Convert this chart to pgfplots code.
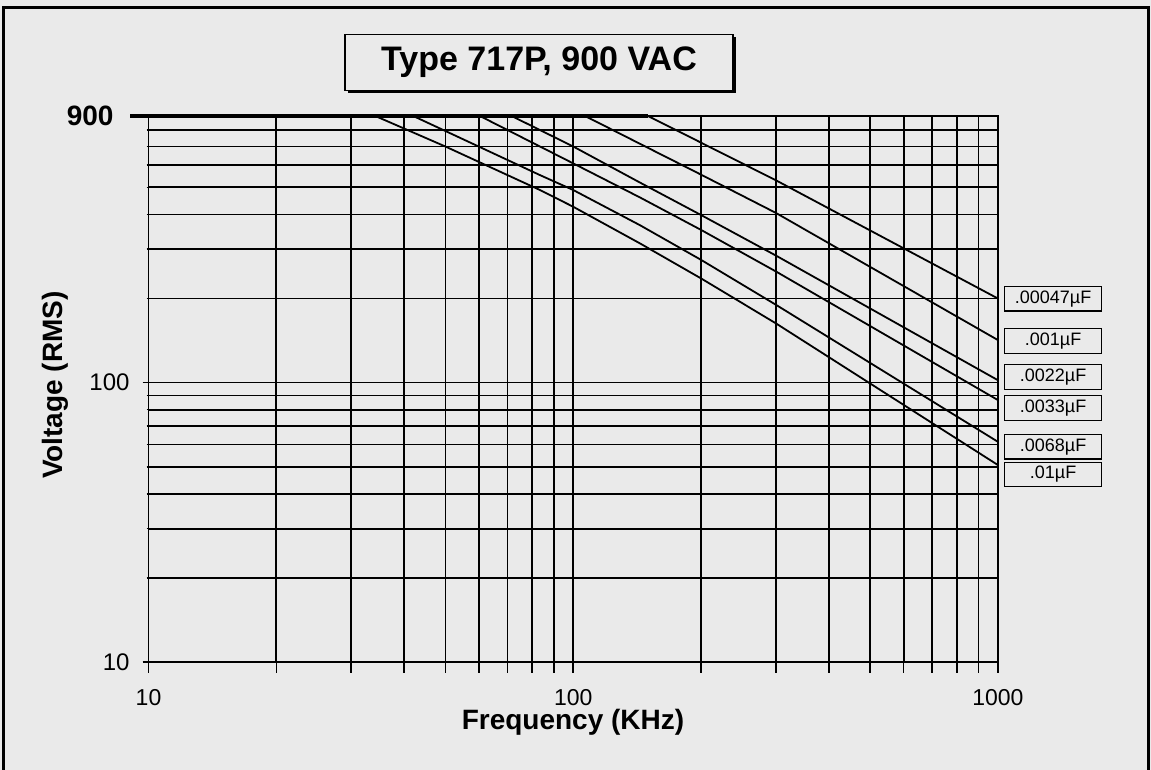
\documentclass[border=0pt]{standalone}
\usepackage{pgfplots}
\pgfplotsset{compat=1.18}
\usepackage{fontspec}
\setmainfont{Liberation Sans}
\definecolor{paper}{RGB}{234,234,234}
\tikzset{legbox/.style={draw, line width=0.7pt, fill=paper, anchor=west, xshift=3pt,
     minimum width=48.5pt, minimum height=12.25pt, inner sep=0pt,
     font=\fontsize{9}{10}\selectfont}}
\begin{document}
\begin{tikzpicture}
\fill[paper] (-74.25pt,-54pt) rectangle (501.25pt,331pt);
\begin{axis}[
  xmode=log, ymode=log,
  scale only axis, width=424.7pt, height=273pt,
  xmin=10, xmax=1000, ymin=10, ymax=900,
  xtick={10,100,1000}, xticklabels={10,100,1000},
  minor xtick={20,30,40,50,60,70,80,90,200,300,400,500,600,700,800,900},
  ytick={10,100,900}, yticklabels={10,100,{\bfseries\fontsize{14}{16}\selectfont 900\hspace*{8pt}}},
  minor ytick={20,30,40,50,60,70,80,90,200,300,400,500,600,700,800},
  grid=both,
  major grid style={black, line width=0.85pt},
  minor grid style={black, line width=0.85pt},
  axis line style={black, line width=0.9pt},
  tick align=outside, tick pos=left,
  major tick length=3pt, minor tick length=1pt,
  xtick style={black, line width=0.8pt, /pgfplots/major tick length=5.5pt, /pgfplots/minor tick length=5.5pt},
  ytick style={black, line width=0.8pt},
  xticklabel style={font=\fontsize{11.5}{13}\selectfont, yshift=-7pt},
  yticklabel style={font=\fontsize{12}{14}\selectfont, xshift=-3pt},
  clip=false,
]
% .01 uF
\addplot[black, line width=0.9pt] coordinates {(10,900) (34.2,900) (50,700) (83.5,489) (100,426) (143.6,315) (200,236) (300,163) (1000,50.7)};
% .0068 uF
\addplot[black, line width=0.9pt] coordinates {(10,900) (42,900) (83.5,553) (100,489) (143.6,366) (200,275) (300,190) (1000,61.4)};
% .0033 uF
\addplot[black, line width=0.9pt] coordinates {(10,900) (60.3,900) (83.5,700) (100,609) (143.6,460) (200,352) (300,250) (1000,86.6)};
% .0022 uF
\addplot[black, line width=0.9pt] coordinates {(10,900) (71.6,900) (100,700) (143.6,520) (200,398) (300,285) (1000,102)};
% .001 uF
\addplot[black, line width=0.9pt] coordinates {(10,900) (106.6,900) (200,555) (300,405) (1000,142)};
% .00047 uF
\addplot[black, line width=0.9pt] coordinates {(10,900) (150,900) (300,530) (1000,200)};
% thick 900 V limit
\addplot[black, line width=2pt] coordinates {(9.05,900) (150,900)};
\node[legbox] at (axis cs:1000,199.7) {.00047µF};
\node[legbox] at (axis cs:1000,140.9) {.001µF};
\node[legbox] at (axis cs:1000,104.7) {.0022µF};
\node[legbox] at (axis cs:1000,81.1) {.0033µF};
\node[legbox] at (axis cs:1000,59.0) {.0068µF};
\node[legbox] at (axis cs:1000,46.9) {.01µF};
\end{axis}
% title box with shadow
\fill[black] (99.75pt,284.25pt) rectangle (293.75pt,312.25pt);
\node[draw, line width=0.8pt, fill=paper, minimum width=194pt, minimum height=28pt, inner sep=0pt,
  font=\bfseries\fontsize{17}{20}\selectfont] at (195.25pt,299.75pt) {Type 717P, 900 VAC};
\node[rotate=90, font=\bfseries\fontsize{14}{16}\selectfont] at (-46.75pt,138.5pt) {Voltage (RMS)};
\node[font=\bfseries\fontsize{14}{16}\selectfont] at (212.25pt,-30pt) {Frequency (KHz)};
\draw[line width=1.5pt] (-72.25pt,-54pt) -- (-72.25pt,327pt) -- (499.75pt,327pt) -- (499.75pt,-54pt);
\pgfresetboundingbox
\useasboundingbox (-74.25pt,-54pt) rectangle (501.25pt,331pt);
\end{tikzpicture}
\end{document}
